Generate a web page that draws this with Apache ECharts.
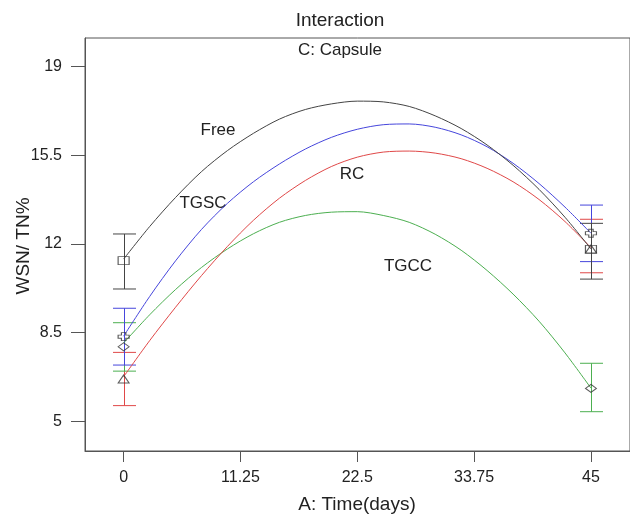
<!DOCTYPE html>
<html>
<head>
<meta charset="utf-8">
<script src="https://cdn.jsdelivr.net/npm/echarts@6/dist/echarts.min.js"></script>
<style>
  html, body { margin: 0; padding: 0; background: #fff; }
  #chart { width: 630px; height: 515px; }
</style>
</head>
<body>
<div id="chart"></div>
<script>
// tick labels
const xTicks = [0, 11.25, 22.5, 33.75, 45]
const yTicks = [5, 8.5, 12, 15.5, 19]

// fitted curves, every 2.5 days
const curveDays = [0, 2.5, 5, 7.5, 10, 12.5, 15, 17.5, 20, 22.5, 25, 27.5, 30, 32.5, 35, 37.5, 40, 42.5, 45]
const freeCurve = [11.4, 12.68, 13.83, 14.85, 15.68, 16.36, 16.92, 17.3, 17.52, 17.63, 17.6, 17.42, 17.05, 16.55, 15.9, 15.1, 14.15, 13.05, 11.8]
const tgscCurve = [8.36, 9.92, 11.33, 12.57, 13.6, 14.45, 15.15, 15.74, 16.2, 16.52, 16.7, 16.73, 16.6, 16.3, 15.83, 15.18, 14.38, 13.45, 12.42]
const rcCurve = [6.76, 8.18, 9.5, 10.75, 11.9, 12.93, 13.8, 14.5, 15.05, 15.42, 15.62, 15.66, 15.58, 15.36, 14.98, 14.45, 13.75, 12.88, 11.85]
const tgccCurve = [8.09, 9.2, 10.2, 11.07, 11.8, 12.4, 12.85, 13.12, 13.25, 13.27, 13.12, 12.85, 12.38, 11.75, 10.95, 10.02, 8.95, 7.7, 6.31]

// design points: [time, mean]
const freePoints = [[0, 11.34], [45, 11.78]]
const tgscPoints = [[0, 8.34], [45, 12.42]]
const rcPoints = [[0, 6.67], [45, 11.8]]
const tgccPoints = [[0, 7.94], [45, 6.3]]

// error bars: [time, low, high]
const freeBars = [[0, 10.22, 12.39], [45, 10.61, 12.81]]
const tgscBars = [[0, 7.22, 9.46], [45, 11.3, 13.53]]
const rcBars = [[0, 5.62, 7.72], [45, 10.86, 12.97]]
const tgccBars = [[0, 6.98, 8.89], [45, 5.38, 7.29]]

const font = 'Liberation Sans, Arial, sans-serif'
const axisColor = '#555'

const chart = echarts.init(document.getElementById('chart'))

function barSeries(name, data, color) {
  return {
    name: name,
    type: 'custom',
    data: data,
    encode: { x: 0, y: [1, 2] },
    z: 3,
    renderItem: function (params, api) {
      const x = api.value(0)
      const top = api.coord([x, api.value(2)])
      const bot = api.coord([x, api.value(1)])
      const px = Math.round(top[0]) + 0.5
      const half = 11.5
      const st = { stroke: color, lineWidth: 1 }
      return {
        type: 'group',
        children: [
          { type: 'line', shape: { x1: px, y1: top[1], x2: px, y2: bot[1] }, style: st },
          { type: 'line', shape: { x1: px - half, y1: top[1], x2: px + half, y2: top[1] }, style: st },
          { type: 'line', shape: { x1: px - half, y1: bot[1], x2: px + half, y2: bot[1] }, style: st }
        ]
      }
    }
  }
}

function curveSeries(name, values, color) {
  return {
    name: name,
    type: 'line',
    data: curveDays.map((d, i) => [d, values[i]]),
    smooth: 0.3,
    showSymbol: false,
    lineStyle: { color: color, width: 1 },
    z: 4
  }
}

function pointSeries(name, data, symbol) {
  return {
    name: name,
    type: 'scatter',
    data: data,
    symbol: symbol,
    symbolSize: [11, 8],
    itemStyle: { color: 'rgba(0,0,0,0)', borderColor: '#333', borderWidth: 1 },
    z: 5
  }
}

const crossPath = 'path://M3,0 H7 V3 H10 V7 H7 V10 H3 V7 H0 V3 H3 Z'

const option = {
  animation: false,
  backgroundColor: '#fff',
  grid: {
    left: 85, top: 38, width: 550, height: 413,
    show: true, borderColor: axisColor, borderWidth: 1, backgroundColor: 'transparent'
  },
  xAxis: {
    type: 'value',
    min: -3.72, max: 48.76,
    axisLine: { show: true, onZero: false, lineStyle: { color: axisColor } },
    splitLine: { show: false },
    axisTick: { show: true, inside: false, length: 11, customValues: xTicks, lineStyle: { color: axisColor } },
    axisLabel: { customValues: xTicks, margin: 19, fontSize: 16, color: '#222', fontFamily: font }
  },
  yAxis: {
    type: 'value',
    min: 3.83, max: 20.12,
    axisLine: { show: true, onZero: false, lineStyle: { color: axisColor } },
    splitLine: { show: false },
    axisTick: { show: true, inside: false, length: 14, customValues: yTicks, lineStyle: { color: axisColor } },
    axisLabel: { customValues: yTicks, margin: 23, fontSize: 16, color: '#222', fontFamily: font }
  },
  graphic: [
    { type: 'text', x: 340, y: 21, style: { text: 'Interaction', fontSize: 19, fontFamily: font, fill: '#222', align: 'center', verticalAlign: 'middle' } },
    { type: 'text', x: 340, y: 50, style: { text: 'C: Capsule', fontSize: 17, fontFamily: font, fill: '#222', align: 'center', verticalAlign: 'middle' } },
    { type: 'text', x: 24, y: 246, rotation: Math.PI / 2, style: { text: 'WSN/ TN%', fontSize: 19, fontFamily: font, fill: '#222', align: 'center', verticalAlign: 'middle' } },
    { type: 'text', x: 357, y: 505, style: { text: 'A: Time(days)', fontSize: 19, fontFamily: font, fill: '#222', align: 'center', verticalAlign: 'middle' } },
    { type: 'text', x: 218, y: 130, style: { text: 'Free', fontSize: 17, fontFamily: font, fill: '#222', align: 'center', verticalAlign: 'middle' } },
    { type: 'text', x: 203, y: 203, style: { text: 'TGSC', fontSize: 17, fontFamily: font, fill: '#222', align: 'center', verticalAlign: 'middle' } },
    { type: 'text', x: 352, y: 174, style: { text: 'RC', fontSize: 17, fontFamily: font, fill: '#222', align: 'center', verticalAlign: 'middle' } },
    { type: 'text', x: 408, y: 266, style: { text: 'TGCC', fontSize: 17, fontFamily: font, fill: '#222', align: 'center', verticalAlign: 'middle' } }
  ],
  series: [
    barSeries('RC', rcBars, '#e04848'),
    barSeries('TGCC', tgccBars, '#4caf50'),
    barSeries('TGSC', tgscBars, '#4646dc'),
    barSeries('Free', freeBars, '#444'),
    curveSeries('TGCC', tgccCurve, '#4caf50'),
    curveSeries('RC', rcCurve, '#e04848'),
    curveSeries('TGSC', tgscCurve, '#4646dc'),
    curveSeries('Free', freeCurve, '#444'),
    pointSeries('Free', freePoints, 'rect'),
    pointSeries('TGSC', tgscPoints, crossPath),
    pointSeries('RC', rcPoints, 'triangle'),
    pointSeries('TGCC', tgccPoints, 'diamond')
  ]
}

chart.setOption(option)
</script>
</body>
</html>
